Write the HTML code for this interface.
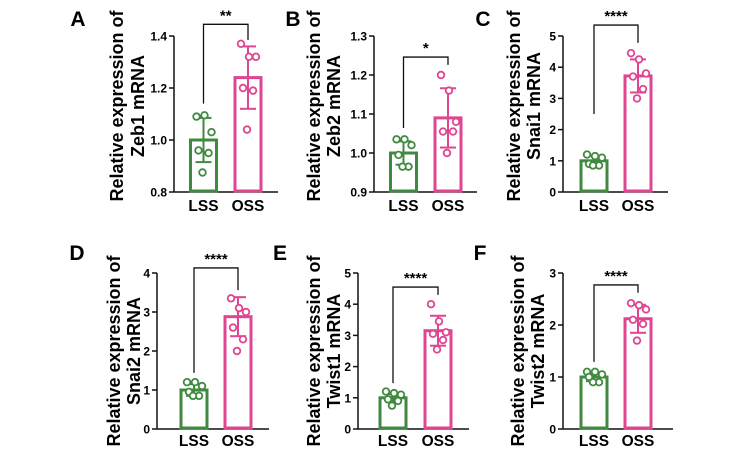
<!DOCTYPE html>
<html><head><meta charset="utf-8"><style>
html,body{margin:0;padding:0;background:#fff;}
svg{display:block;font-family:"Liberation Sans",Arial,sans-serif;}
</style></head><body>
<svg id="fig" width="744" height="456" viewBox="0 0 744 456" xmlns="http://www.w3.org/2000/svg"></svg>
<script>
const panelLetters = ["A","B","C","D","E","F"];
const genes = ["Zeb1","Zeb2","Snai1","Snai2","Twist1","Twist2"];
const categories = ["LSS","OSS"];
const yMins = [0.8,0.9,0,0,0,0];
const yMaxs = [1.4,1.3,5,4,5,3];
const tickLabels = [["0.8","1.0","1.2","1.4"],["0.9","1.0","1.1","1.2","1.3"],["0","1","2","3","4","5"],["0","1","2","3","4"],["0","1","2","3","4","5"],["0","1","2","3"]];
const lssMeans = [1.0,1.0,1.0,1.0,1.0,1.0];
const ossMeans = [1.24,1.09,3.72,2.88,3.15,2.12];
const lssSD = [0.085,0.03,0.15,0.15,0.12,0.08];
const ossSD = [0.12,0.076,0.53,0.5,0.48,0.27];
const lssPoints = [[1.09,1.095,1.03,0.96,0.95,0.875],[1.035,1.035,1.02,0.995,0.965,0.965],[1.2,1.15,1.1,0.9,0.85,0.85],[1.2,1.2,1.1,0.95,0.85,0.85],[1.2,1.15,1.1,0.95,0.9,0.75],[1.1,1.1,1.05,1.0,0.9,0.9]];
const ossPoints = [[1.37,1.32,1.32,1.2,1.19,1.04],[1.2,1.16,1.08,1.055,1.055,1.0],[4.45,4.25,3.8,3.7,3.3,3.0],[3.35,3.1,3.0,2.6,2.3,2.0],[4.0,3.45,3.1,3.05,2.85,2.55],[2.42,2.38,2.3,2.1,2.02,1.7]];
const sigLabels = ["**","*","****","****","****","****"];
const bracketTop = [1.445,1.246,5.35,4.13,4.55,2.77];
const bracketLeft = [1.14,1.064,2.5,1.44,1.47,1.29];
const bracketRight = [1.385,1.226,4.78,3.56,4.3,2.62];

const NS="http://www.w3.org/2000/svg";
const svg=document.getElementById('fig');
const GREEN="#3f8a3f", PINK="#df4590";
const L=[
 {ax:174,top:36,bot:192,lss:203.5,oss:248,end:278,lab:[118,139],lx:78,ly:26,xl:211,cy:106},
 {ax:374,top:36,bot:192,lss:403.5,oss:448,end:477,lab:[315,335],lx:293,ly:26,xl:211,cy:106},
 {ax:563,top:36,bot:192,lss:594,oss:638,end:668,lab:[515,535],lx:483,ly:26,xl:211,cy:106},
 {ax:157,top:273,bot:429,lss:194,oss:238,end:269,lab:[115,135],lx:77,ly:260,xl:446,cy:351},
 {ax:358,top:273,bot:429,lss:393,oss:438,end:469,lab:[315,335],lx:280,ly:260,xl:446,cy:351},
 {ax:563,top:273,bot:429,lss:594,oss:638,end:673,lab:[519,539],lx:480,ly:260,xl:446,cy:351}
];
const jit=[-7,1,8,-5,5,-1];
function mk(tag,attrs,parent){const e=document.createElementNS(NS,tag);for(const k in attrs)e.setAttribute(k,attrs[k]);(parent||svg).appendChild(e);return e;}
for(let p=0;p<6;p++){
  const g=mk('g',{});
  
  
  const c=L[p];
  const y=v=>c.bot-(v-yMins[p])/(yMaxs[p]-yMins[p])*(c.bot-c.top);
  const t=mk('text',{x:c.lx,y:c.ly,'font-size':21,'font-weight':'bold','text-anchor':'middle'},g);
  t.textContent=panelLetters[p];
  
  
  const cy=c.cy;
  const l1=mk('text',{x:c.lab[0],y:cy,'font-size':18,'font-weight':'bold','text-anchor':'middle','dominant-baseline':'middle',transform:`rotate(-90 ${c.lab[0]} ${cy})`},g);
  l1.textContent="Relative expression of";
  
  
  const l2=mk('text',{x:c.lab[1],y:cy,'font-size':18,'font-weight':'bold','text-anchor':'middle','dominant-baseline':'middle',transform:`rotate(-90 ${c.lab[1]} ${cy})`},g);
  l2.textContent=genes[p]+" mRNA";
  
  
  const ya=mk('line',{x1:c.ax,y1:c.top,x2:c.ax,y2:c.bot,stroke:'#111','stroke-width':1.5},g);
  
  
  const xa=mk('line',{x1:c.ax,y1:c.bot,x2:c.end,y2:c.bot,stroke:'#111','stroke-width':1.5},g);
  
  
  const n=tickLabels[p].length;
  tickLabels[p].forEach((lab,i)=>{
    const v=yMins[p]+(yMaxs[p]-yMins[p])*i/(n-1);
    const yy=y(v);
    mk('line',{x1:c.ax-5,y1:yy,x2:c.ax,y2:yy,stroke:'#111','stroke-width':1.5},g);
    const tt=mk('text',{x:c.ax-7,y:yy+4.5,'font-size':12,'font-weight':'bold','text-anchor':'end'},g);
    tt.textContent=lab;
    
    
  });
  const groups=[[c.lss,lssMeans[p],lssSD[p],lssPoints[p],GREEN],[c.oss,ossMeans[p],ossSD[p],ossPoints[p],PINK]];
  groups.forEach((gr,gi)=>{
    const [cx,m,sd,pts,col]=gr;
    const top=y(m);
    const b=mk('rect',{x:cx-13,y:top,width:26,height:c.bot-top-1,fill:'#fff',stroke:col,'stroke-width':3},g);
    
    
    mk('line',{x1:cx,y1:y(m+sd),x2:cx,y2:y(m-sd),stroke:col,'stroke-width':2},g);
    mk('line',{x1:cx-8,y1:y(m+sd),x2:cx+8,y2:y(m+sd),stroke:col,'stroke-width':2},g);
    const lo=mk('line',{x1:cx-8,y1:y(m-sd),x2:cx+8,y2:y(m-sd),stroke:col,'stroke-width':2},g);
    
    
    pts.forEach((v,i)=>{
      const pt=mk('circle',{cx:cx+jit[i],cy:y(v),r:3.3,fill:'#fff',stroke:col,'stroke-width':1.8},g);
      
      
    });
    const xl=mk('text',{x:cx,y:c.xl,'font-size':15.5,'font-weight':'bold','text-anchor':'middle'},g);
    xl.textContent=categories[gi];
    
    
  });
  const bt=y(bracketTop[p]);
  const br=mk('path',{d:`M${c.lss},${y(bracketLeft[p])}V${bt}H${c.oss}V${y(bracketRight[p])}`,fill:'none',stroke:'#111','stroke-width':1.3},g);
  
  
  const st=mk('text',{x:(c.lss+c.oss)/2,y:bt-4,'font-size':15,'font-weight':'bold','text-anchor':'middle'},g);
  st.textContent=sigLabels[p];
  
  
}
</script>
</body></html>
